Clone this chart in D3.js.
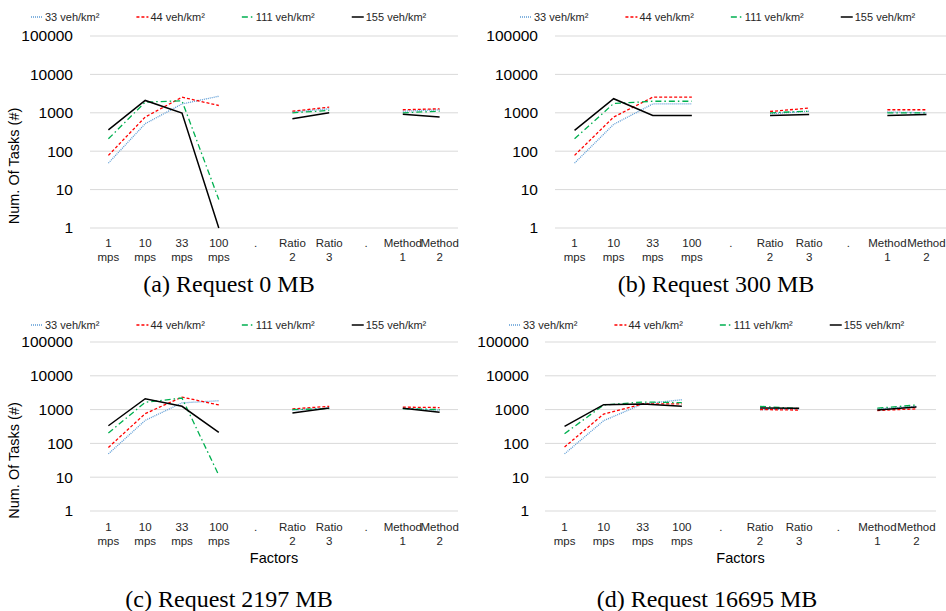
<!DOCTYPE html>
<html>
<head>
<meta charset="utf-8">
<script src="https://cdn.jsdelivr.net/npm/d3@7"></script>
<style>
  body { margin: 0; background: #fff; }
  svg { display: block; font-family: "Liberation Sans", Arial, sans-serif; }
</style>
</head>
<body>
<svg id="chart" width="946" height="611"></svg>
<script>
const categories = ['1 mps', '10 mps', '33 mps', '100 mps', '.', 'Ratio 2', 'Ratio 3', '.', 'Method 1', 'Method 2']
const seriesNames = ['33 veh/km²', '44 veh/km²', '111 veh/km²', '155 veh/km²']
const yTicks = [1, 10, 100, 1000, 10000, 100000]

// (a) Request 0 MB
const a33 = [49, 520, 1700, 2700, null, 1050, 1270, null, 1100, 1200]
const a44 = [78, 775, 2550, 1550, null, 1100, 1400, null, 1200, 1270]
const a111 = [210, 1900, 2050, 5.5, null, 1000, 1150, null, 1000, 1100]
const a155 = [360, 2100, 980, 1, null, 700, 1000, null, 910, 775]

// (b) Request 300 MB
const b33 = [49, 500, 1700, 1700, null, 950, 1100, null, 1050, 1000]
const b44 = [78, 775, 2550, 2550, null, 1080, 1330, null, 1200, 1200]
const b111 = [210, 1750, 2000, 2000, null, 1000, 1100, null, 1000, 1000]
const b155 = [350, 2330, 850, 850, null, 850, 900, null, 850, 900]

// (c) Request 2197 MB
const c33 = [49, 480, 1580, 1830, null, 970, 1100, null, 1070, 970]
const c44 = [76, 760, 2350, 1370, null, 1050, 1250, null, 1180, 1150]
const c111 = [203, 1640, 2200, 11.4, null, 1000, 1070, null, 1070, 1000]
const c155 = [333, 2100, 1250, 213, null, 790, 1110, null, 1100, 830]

// (d) Request 16695 MB
const d33 = [49, 470, 1470, 1960, null, 1000, 1050, null, 1050, 1250]
const d44 = [78, 740, 1470, 1470, null, 1000, 970, null, 940, 1050]
const d111 = [194, 1370, 1680, 1600, null, 1250, 1070, null, 1100, 1370]
const d155 = [320, 1400, 1470, 1250, null, 1110, 1100, null, 970, 1200]

const styles = [
    { color: '#5b9bd5', dash: '1,1', width: 1.3 },
    { color: '#ff0000', dash: '3,2', width: 1.3 },
    { color: '#00b050', dash: '6,3,1.5,3', width: 1.3 },
    { color: '#000000', dash: null, width: 1.5 }
]

const panels = [
    { series: [a33, a44, a111, a155], caption: '(a) Request 0 MB', left: 90, right: 458, top: 36, bottom: 228,
      legendX: 31, legendY: 17, labelX: 73, yTitle: true, xTitle: false, tickY: 243, captionX: 229, captionY: 292 },
    { series: [b33, b44, b111, b155], caption: '(b) Request 300 MB', left: 555, right: 946, top: 36, bottom: 228,
      legendX: 520, legendY: 17, labelX: 538, yTitle: false, xTitle: false, tickY: 243, captionX: 716, captionY: 292 },
    { series: [c33, c44, c111, c155], caption: '(c) Request 2197 MB', left: 90, right: 458, top: 342, bottom: 511,
      legendX: 31, legendY: 325, labelX: 73, yTitle: true, xTitle: true, tickY: 527, captionX: 229, captionY: 607 },
    { series: [d33, d44, d111, d155], caption: '(d) Request 16695 MB', left: 545, right: 936, top: 342, bottom: 511,
      legendX: 509, legendY: 325, labelX: 529, yTitle: false, xTitle: true, tickY: 527, captionX: 707, captionY: 607 }
]

const svg = d3.select('#chart')

const drawPanel = (p) => {
    const g = svg.append('g')

    const x = d3.scaleBand().domain(d3.range(categories.length)).range([p.left, p.right])
    const y = d3.scaleLog().domain([1, 100000]).range([p.bottom, p.top])

    // gridlines
    g.selectAll('.grid')
        .data(yTicks)
        .join('line')
        .attr('x1', p.left)
        .attr('x2', p.right)
        .attr('y1', d => y(d))
        .attr('y2', d => y(d))
        .attr('stroke', '#d9d9d9')
        .attr('stroke-width', 1)

    // y tick labels
    g.selectAll('.ylab')
        .data(yTicks)
        .join('text')
        .attr('x', p.labelX)
        .attr('y', d => y(d))
        .attr('dy', '0.35em')
        .attr('text-anchor', 'end')
        .attr('font-size', 15.5)
        .attr('fill', '#000')
        .text(d => d)

    // x tick labels (two lines)
    categories.forEach((c, i) => {
        const parts = c.split(' ')
        const t = g.append('text')
            .attr('text-anchor', 'middle')
            .attr('font-size', 11.5)
            .attr('fill', '#262626')
            .attr('transform', `translate(${x(i) + x.bandwidth() / 2},${p.tickY})`)
        parts.forEach((s, k) => {
            t.append('tspan')
                .attr('x', 0)
                .attr('y', k * 13.5)
                .attr('dy', '0.35em')
                .text(s)
        })
    })

    // lines
    const line = d3.line()
        .defined(d => d != null)
        .x((d, i) => x(i) + x.bandwidth() / 2)
        .y(d => y(d))

    p.series.forEach((values, s) => {
        const st = styles[s]
        g.append('path')
            .datum(values)
            .attr('fill', 'none')
            .attr('stroke', st.color)
            .attr('stroke-width', st.width)
            .attr('stroke-dasharray', st.dash)
            .attr('d', line)
    })

    // legend
    let lx = p.legendX
    seriesNames.forEach((name, s) => {
        const st = styles[s]
        g.append('line')
            .attr('x1', lx)
            .attr('x2', lx + 12)
            .attr('y1', p.legendY)
            .attr('y2', p.legendY)
            .attr('stroke', st.color)
            .attr('stroke-width', st.width)
            .attr('stroke-dasharray', st.dash)
        const txt = g.append('text')
            .attr('x', lx + 14)
            .attr('y', p.legendY)
            .attr('dy', '0.35em')
            .attr('font-size', 11)
            .attr('fill', '#262626')
            .text(name)
        lx += 14 + txt.node().getComputedTextLength() + 37
    })

    if (p.yTitle) {
        g.append('text')
            .attr('transform', `translate(14,${(p.top + p.bottom) / 2 + 34}) rotate(-90)`)
            .attr('dy', '0.35em')
            .attr('text-anchor', 'middle')
            .attr('font-size', 14.5)
            .attr('fill', '#000')
            .text('Num. Of Tasks (#)')
    }

    if (p.xTitle) {
        g.append('text')
            .attr('x', (p.left + p.right) / 2)
            .attr('y', 558)
            .attr('dy', '0.35em')
            .attr('text-anchor', 'middle')
            .attr('font-size', 14.5)
            .attr('fill', '#000')
            .text('Factors')
    }

    g.append('text')
        .attr('x', p.captionX)
        .attr('y', p.captionY)
        .attr('text-anchor', 'middle')
        .attr('font-family', '"Liberation Serif", "DejaVu Serif", serif')
        .attr('font-size', 24)
        .attr('fill', '#000')
        .text(p.caption)
}

panels.forEach(drawPanel)
</script>
</body>
</html>
